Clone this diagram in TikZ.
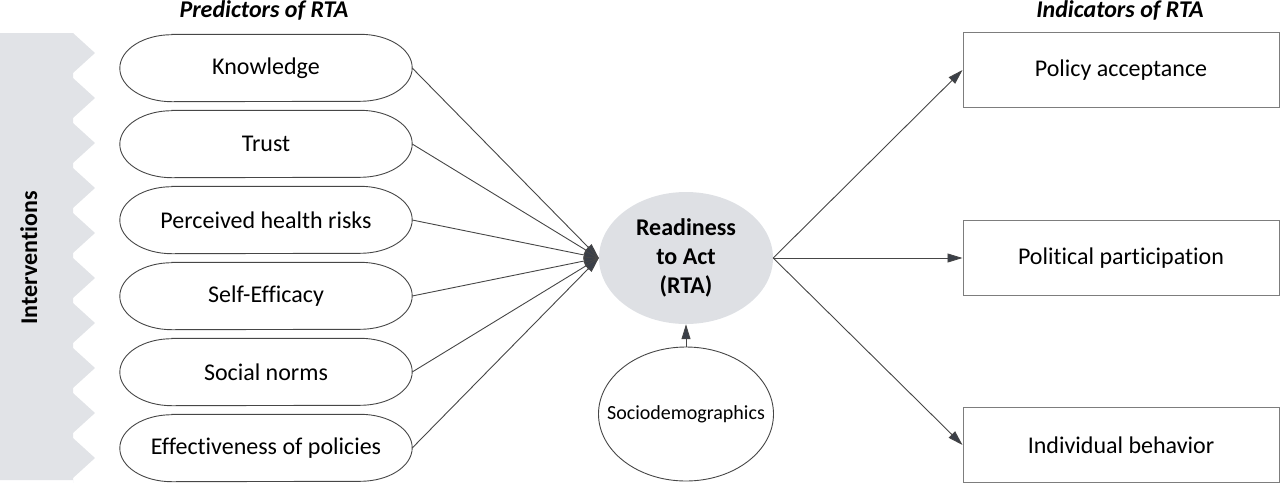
\documentclass[tikz,border=0pt]{standalone}
\usepackage{fontspec}
\setmainfont{Carlito}[Ligatures=NoCommon]
\usetikzlibrary{shapes,arrows.meta,positioning,calc}
\definecolor{bandGray}{RGB}{225,227,231}
\definecolor{rtaGray}{RGB}{222,224,228}
\definecolor{lineGray}{RGB}{70,70,70}
\definecolor{tipGray}{RGB}{58,63,72}
\definecolor{boxGray}{RGB}{125,125,125}
\tikzset{
  >={Triangle[length=15pt,width=9pt,fill=tipGray]},
  predictor/.style={rectangle,minimum width=292pt,minimum height=67pt,inner sep=0pt,font=\fontsize{24}{28}\selectfont},
  predOutline/.style={draw=lineGray,line width=0.9pt},
  indicator/.style={rectangle,draw=boxGray,line width=1pt,minimum width=316pt,minimum height=75pt,inner sep=0pt,font=\fontsize{24}{28}\selectfont},
  rtaNode/.style={ellipse,fill=rtaGray,minimum width=174pt,minimum height=132pt,inner sep=0pt,align=center,font=\fontsize{24}{29}\selectfont\bfseries},
  socioNode/.style={ellipse,draw=lineGray,line width=0.9pt,minimum width=175pt,minimum height=134pt,inner xsep=-25pt,inner ysep=0pt,font=\fontsize{20}{24}\selectfont},
  link/.style={->,draw=lineGray,line width=0.9pt},
  header/.style={font=\fontsize{24}{28}\selectfont\bfseries\itshape,anchor=base},
}

\begin{document}
\begin{tikzpicture}[x=1pt,y=-1pt]
\useasboundingbox (0,0) rectangle (1280,483);

% ===== Interventions band (sawtooth right edge) =====
\fill[bandGray] (0,33) -- (73,33)
  \foreach \k in {0,...,9} { -- (95,{53+45*\k}) -- (73,{73+45*\k}) -- (73,{78+45*\k}) }
  -- (73,480) -- (0,480) -- cycle;
\node[rotate=90,anchor=base,font=\fontsize{24}{28}\selectfont\bfseries] (interv) at (37,258) {Interventions};

% ===== Predictors =====
\node[header] (predHead) at (264,17) {Predictors of RTA};
\foreach [count=\i] \y/\txt in {68/Knowledge,144/Trust,220/Perceived health risks,296/Self-Efficacy,372/Social norms,448/Effectiveness of policies} {
  \node[predictor] (p\i) at (266,\y) {\txt};
  \draw[predOutline] ([xshift=52pt]p\i.north west) -- ([xshift=-52pt]p\i.north east)
    arc[start angle=90,end angle=-90,x radius=52pt,y radius=33.5pt]
    -- ([xshift=52pt]p\i.south west)
    arc[start angle=270,end angle=90,x radius=52pt,y radius=33.5pt] -- cycle;
}

% ===== Readiness to act =====
\node[rtaNode] (rta) at (686,258) {Readiness\\to Act\\(RTA)};
\node[socioNode] (socio) at (686,414) {Sociodemographics};

% ===== Indicators =====
\node[indicator] (i1) at (1121,70) {Policy acceptance};
\node[header] (indHead) at (1120,17) {Indicators of RTA};
\node[indicator] (i2) at (1121,258) {Political participation};
\node[indicator] (i3) at (1121,445) {Individual behavior};

% ===== Connections =====
\foreach \a in {1,...,6} {\draw[link] (p\a.east) -- (rta.west);}
\draw[link] (socio.north) -- (rta.south);
\foreach \b in {1,2,3} {\draw[link] (rta.east) -- (i\b.west);}

\end{tikzpicture}
\end{document}
